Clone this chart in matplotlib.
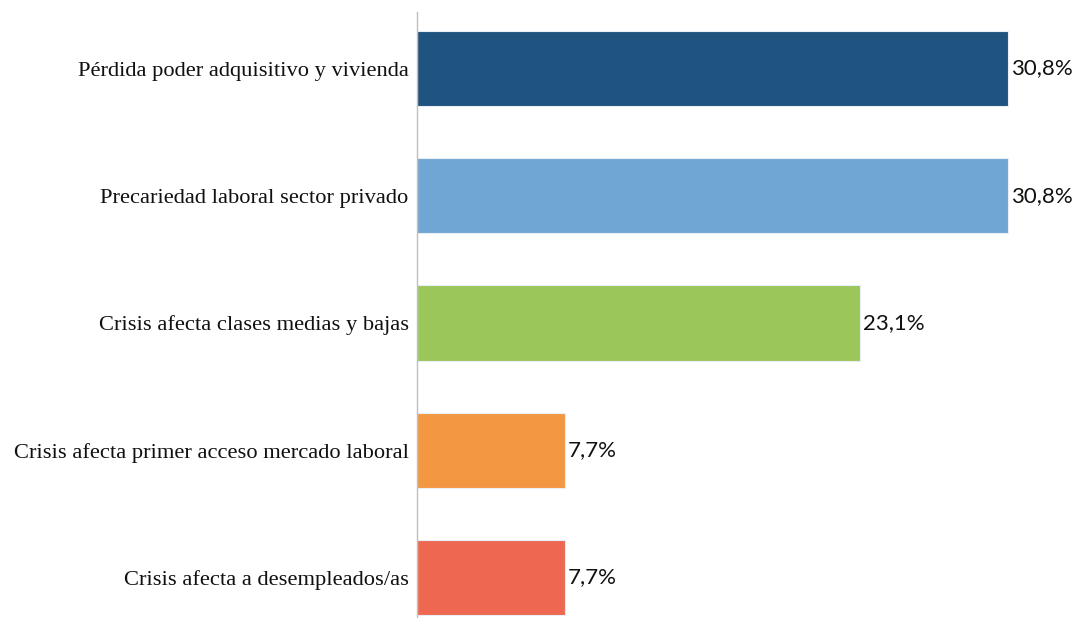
import matplotlib
matplotlib.use("Agg")
import matplotlib.pyplot as plt

categories = [
    "Pérdida poder adquisitivo y vivienda",
    "Precariedad laboral sector privado",
    "Crisis afecta clases medias y bajas",
    "Crisis afecta primer acceso mercado laboral",
    "Crisis afecta a desempleados/as",
]
values = [30.8, 30.8, 23.1, 7.7, 7.7]
value_labels = ["30,8%", "30,8%", "23,1%", "7,7%", "7,7%"]
colors = ["#1F5380", "#6FA6D4", "#9BC65A", "#F39743", "#EE6751"]

W, H = 1080, 618
fig = plt.figure(figsize=(W / 100, H / 100), dpi=100)
left_px, right_px, top_px, bottom_px = 417, 1069.5, 12, 618
ax = fig.add_axes([left_px / W, 1 - bottom_px / H, (right_px - left_px) / W, (bottom_px - top_px) / H])

y = list(range(len(categories)))
ax.barh(y, values, height=0.59, color=colors, edgecolor="#E8EEF4", linewidth=0.8)
ax.set_xlim(0, 34)
ax.set_ylim(4.318, -0.444)

ax.set_yticks(y)
ax.set_yticklabels(categories, fontsize=16.2, family=["Liberation Serif", "DejaVu Serif"], color="#111111")
ax.tick_params(axis="y", length=0, pad=6)
ax.set_xticks([])

for s in ["top", "right", "bottom"]:
    ax.spines[s].set_visible(False)
ax.spines["left"].set_color("#BFBFBF")
ax.spines["left"].set_linewidth(1.0)

for yi, v, lab in zip(y, values, value_labels):
    ax.text(v + 0.15, yi, lab, va="center", ha="left", fontsize=16,
            family=["Lato", "DejaVu Sans"], color="#111111")

fig.savefig("out.png", dpi=100)
